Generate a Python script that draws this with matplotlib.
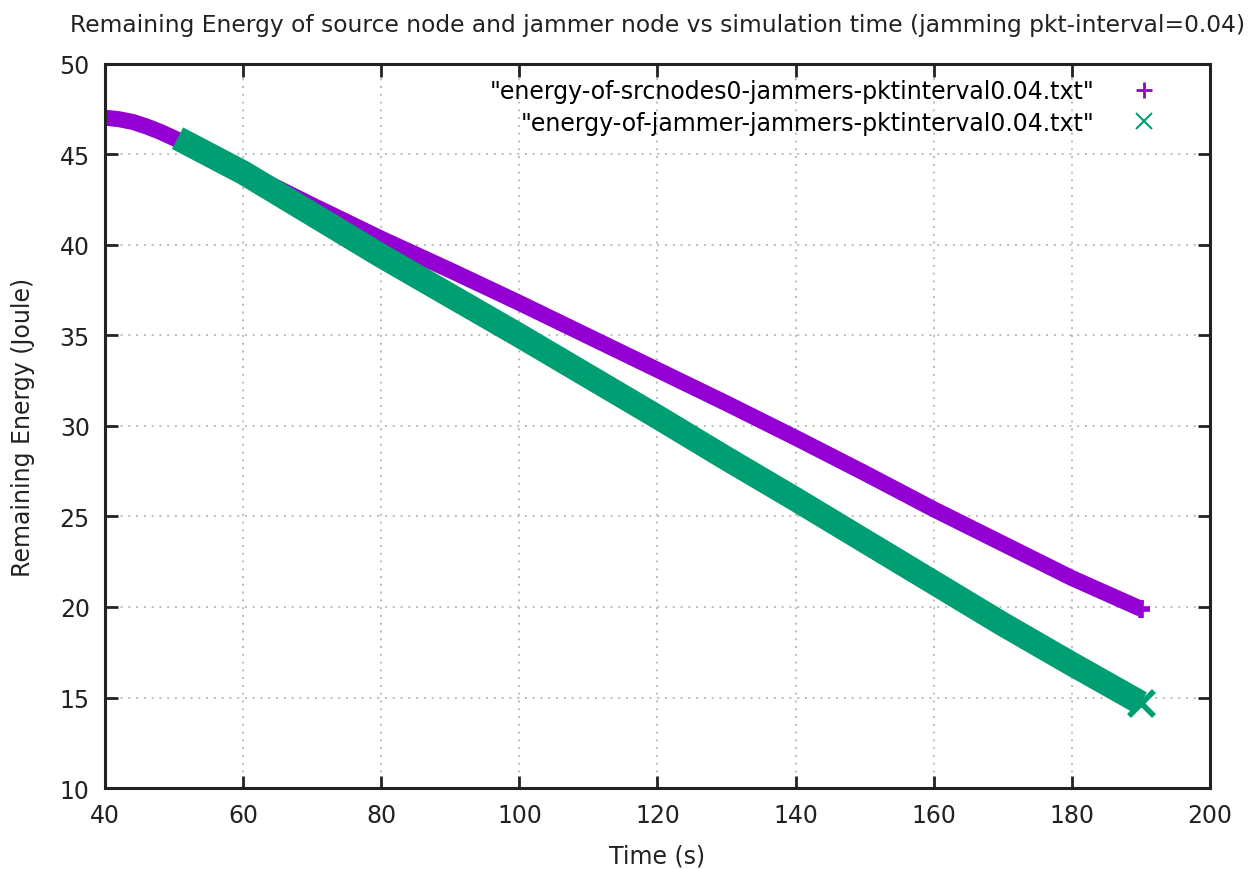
import numpy as np
import matplotlib
matplotlib.use("Agg")
import matplotlib.pyplot as plt

# readings
src_time = [39.6, 42, 44, 46, 48, 50, 55, 60, 70, 80, 90, 100, 110, 120,
            130, 140, 150, 160, 170, 180, 190]
src_energy = [47.05, 46.95, 46.8, 46.55, 46.25, 45.9, 45.0, 44.1, 42.2, 40.35,
              38.6, 36.8, 34.95, 33.1, 31.25, 29.35, 27.4, 25.4, 23.5, 21.6, 19.9]

jam_time = [50.5, 60, 70, 80, 90, 100, 110, 120, 130, 140, 150, 160, 170,
            180, 190]
jam_energy = [45.9, 44.0, 41.7, 39.4, 37.2, 35.0, 32.75, 30.5, 28.2, 25.95,
              23.65, 21.35, 19.05, 16.85, 14.7]

x_ticks = [40, 60, 80, 100, 120, 140, 160, 180, 200]
y_ticks = [10, 15, 20, 25, 30, 35, 40, 45, 50]

purple = '#9400d3'
green = '#009e73'
ink = '#222222'

fig = plt.figure(figsize=(12.55, 8.7), dpi=100)
ax = fig.add_axes([0.0837, 0.0931, 0.8804, 0.8322])

ax.plot(src_time, src_energy, color=purple, linewidth=11.5,
        solid_capstyle='butt', solid_joinstyle='round')
ax.plot(jam_time, jam_energy, color=green, linewidth=17.5,
        solid_capstyle='butt', solid_joinstyle='round')
# end markers like the point style of the picture
ax.plot(src_time[-1:], src_energy[-1:], '+', color=purple, ms=13, mew=4)
ax.plot(jam_time[-1:], jam_energy[-1:], 'x', color=green, ms=18, mew=4)

# legend drawn text-first, marker on the right
ax.plot([], [], '+', color=purple, ms=12, mew=2,
        label='"energy-of-srcnodes0-jammers-pktinterval0.04.txt"')
ax.plot([], [], 'x', color=green, ms=12, mew=1.5,
        label='"energy-of-jammer-jammers-pktinterval0.04.txt"')
handles, labels = ax.get_legend_handles_labels()
leg = ax.legend(handles[-2:], labels[-2:], loc='upper right', frameon=False,
                markerfirst=False, fontsize=17, handlelength=2.6,
                labelspacing=0.3, bbox_to_anchor=(0.987, 1.008))
for t in leg.get_texts():
    t.set_ha('right')

ax.set_xlim(40, 200)
ax.set_ylim(10, 50)
ax.set_xticks(x_ticks)
ax.set_yticks(y_ticks)
ax.tick_params(direction='in', length=9, width=2, labelsize=17,
               top=True, right=True, colors=ink, pad=11)
for side in ['top', 'bottom', 'left', 'right']:
    ax.spines[side].set_linewidth(2.2)
    ax.spines[side].set_color(ink)
ax.grid(True, linestyle=(0, (1, 3)), color='#bbbbbb', linewidth=1.4)
ax.set_axisbelow(True)

ax.set_xlabel('Time (s)', fontsize=17, color=ink, labelpad=12)
ax.set_ylabel('Remaining Energy (Joule)', fontsize=17, color=ink,
              labelpad=18)
ax.set_title('Remaining Energy of source node and jammer node vs simulation '
             'time (jamming pkt-interval=0.04)', fontsize=16.8, color=ink,
             pad=24)

fig.savefig('out.png', dpi=100)
